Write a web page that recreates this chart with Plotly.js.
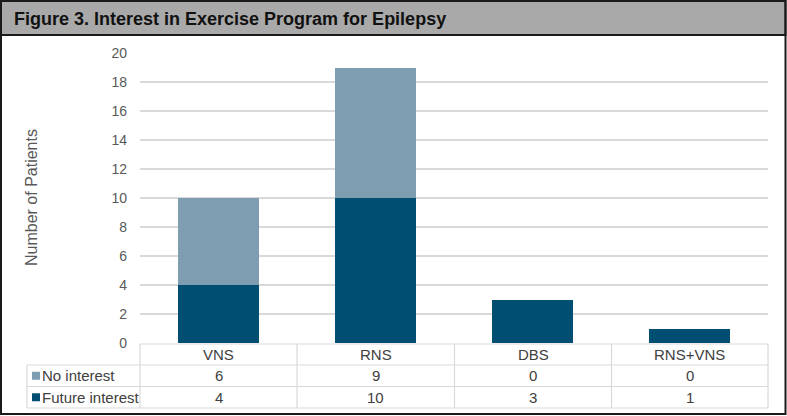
<!DOCTYPE html>
<html>
<head>
<meta charset="utf-8">
<script src="https://cdn.plot.ly/plotly-3.0.1.min.js"></script>
<style>
html,body{margin:0;padding:0;background:#fff;}
#chart{width:787px;height:416px;}
</style>
</head>
<body>
<div id="chart"></div>
<script>
var categories = ["VNS", "RNS", "DBS", "RNS+VNS"];
var noInterest = [6, 9, 0, 0];
var futureInterest = [4, 10, 3, 1];
var seriesNames = ["No interest", "Future interest"];
var yTicks = [0, 2, 4, 6, 8, 10, 12, 14, 16, 18, 20];
var titleText = "Figure 3. Interest in Exercise Program for Epilepsy";
var yTitle = "Number of Patients";

var W = 787, H = 416;
var M = {l: 140, r: 19, t: 53, b: 73};
var PW = W - M.l - M.r, PH = H - M.t - M.b;
function px(x){ return (x - M.l) / PW; }
function py(y){ return (H - M.b - y) / PH; }

var lightC = "#7f9db1";
var darkC = "#004f72";
var gridC = "#d9d9d9";
var textC = "#404040";
var font = "Liberation Sans, Arial, sans-serif";

var traces = [
  {type: "bar", name: seriesNames[1], x: categories, y: futureInterest, marker: {color: darkC}, hoverinfo: "x+y+name"},
  {type: "bar", name: seriesNames[0], x: categories, y: noInterest, marker: {color: lightC}, hoverinfo: "x+y+name"}
];

var shapes = [];
var annotations = [];

// title bar
shapes.push({type: "rect", xref: "paper", yref: "paper", x0: px(1), x1: px(785.5), y0: py(35), y1: py(1), fillcolor: "#a9a9a9", line: {color: "#1a1a1a", width: 2}, layer: "below"});
// outer border
shapes.push({type: "rect", xref: "paper", yref: "paper", x0: px(1), x1: px(785.5), y0: py(414), y1: py(1), fillcolor: "rgba(0,0,0,0)", line: {color: "#1a1a1a", width: 2}, layer: "above"});

annotations.push({xref: "paper", yref: "paper", x: px(12), y: py(18.5), xanchor: "left", yanchor: "middle", text: "<b>" + titleText + "</b>", showarrow: false, font: {family: font, size: 18, color: "#111"}});

annotations.push({xref: "paper", yref: "paper", x: px(31), y: py(198), xanchor: "center", yanchor: "middle", textangle: -90, text: yTitle, showarrow: false, font: {family: font, size: 16, color: "#595959"}});

// table
var colX = [140, 297, 454.5, 611.5, 768];
var rowY = [344, 365, 386.5, 408];
var tableLeft = 27;
function line(x0, y0, x1, y1){
  shapes.push({type: "line", xref: "paper", yref: "paper", x0: px(x0), x1: px(x1), y0: py(y0), y1: py(y1), line: {color: gridC, width: 1.2}, layer: "above"});
}
line(colX[0], rowY[0], colX[4], rowY[0]);
for (var r = 1; r < rowY.length; r++) line(tableLeft, rowY[r], colX[4], rowY[r]);
line(tableLeft, rowY[1], tableLeft, rowY[3]);
for (var c = 0; c < colX.length; c++) line(colX[c], rowY[0], colX[c], rowY[3]);

var rows = [noInterest, futureInterest];
var rowColors = [lightC, darkC];
for (var i = 0; i < categories.length; i++){
  var cx = (colX[i] + colX[i+1]) / 2;
  annotations.push({xref: "paper", yref: "paper", x: px(cx), y: py((rowY[0]+rowY[1])/2), xanchor: "center", yanchor: "middle", text: categories[i], showarrow: false, font: {family: font, size: 15, color: textC}});
  for (var r2 = 0; r2 < rows.length; r2++){
    annotations.push({xref: "paper", yref: "paper", x: px(cx), y: py((rowY[r2+1]+rowY[r2+2])/2), xanchor: "center", yanchor: "middle", text: String(rows[r2][i]), showarrow: false, font: {family: font, size: 15, color: textC}});
  }
}
for (var r3 = 0; r3 < seriesNames.length; r3++){
  var cy = (rowY[r3+1] + rowY[r3+2]) / 2;
  shapes.push({type: "rect", xref: "paper", yref: "paper", x0: px(32), x1: px(40), y0: py(cy + 4), y1: py(cy - 4), fillcolor: rowColors[r3], line: {width: 0}, layer: "above"});
  annotations.push({xref: "paper", yref: "paper", x: px(39.5), y: py(cy), xanchor: "left", yanchor: "middle", text: seriesNames[r3], showarrow: false, font: {family: font, size: 15, color: textC}});
}

var layout = {
  width: W, height: H,
  margin: M,
  paper_bgcolor: "#fff", plot_bgcolor: "#fff",
  barmode: "stack", bargap: 0.48,
  showlegend: false,
  font: {family: font, size: 14, color: "#595959"},
  xaxis: {showticklabels: false, showgrid: false, zeroline: false, showline: false, ticks: "", fixedrange: true},
  yaxis: {range: [0, 20], tickvals: yTicks, ticktext: yTicks.map(String), showgrid: true, gridcolor: gridC, gridwidth: 1.2, zeroline: false, showline: false, ticks: "", ticklabelstandoff: 12, tickfont: {family: font, size: 14, color: "#595959"}, fixedrange: true},
  shapes: shapes,
  annotations: annotations
};

Plotly.newPlot("chart", traces, layout, {displayModeBar: false, staticPlot: true});
</script>
</body>
</html>
